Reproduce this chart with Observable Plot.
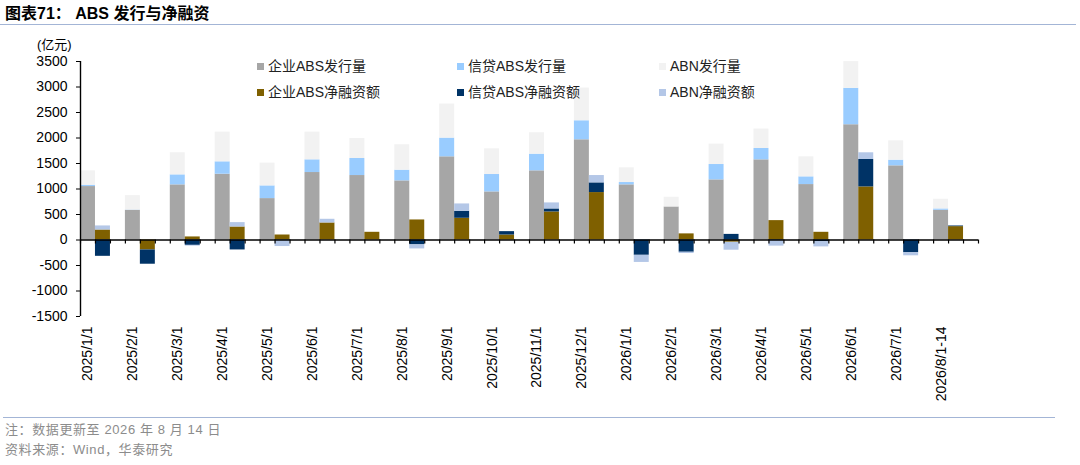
<!DOCTYPE html>
<html><head><meta charset="utf-8">
<script src="https://cdn.jsdelivr.net/npm/d3@7"></script>
<script src="https://cdn.jsdelivr.net/npm/@observablehq/plot@0.6"></script>
<style>
body{margin:0;background:#fff;font-family:"Liberation Sans","Noto Sans CJK SC",sans-serif;}
#wrap{position:relative;width:1080px;height:465px;overflow:hidden;background:#fff;}
#chart{position:absolute;left:0;top:0;}
.abs{position:absolute;white-space:nowrap;}
.title{left:5px;top:4px;font-size:16px;font-weight:bold;line-height:20px;color:#000;}
.rule{position:absolute;height:0;border-top:1.5px solid #a3b5d6;}
.unit{left:37px;top:37px;font-size:13px;line-height:15px;color:#000;}
.lg{position:absolute;display:flex;align-items:center;font-size:14px;line-height:20px;color:#222;white-space:nowrap;}
.lg i{display:inline-block;width:7px;height:7px;margin-right:4px;}
.foot{left:5px;font-size:13px;line-height:18px;color:#8c8c8c;letter-spacing:0.6px;}
</style></head>
<body><div id="wrap">
<div id="chart"></div>
<div class="abs title">图表71： ABS 发行与净融资</div>
<div class="rule" style="left:0;top:24px;width:1076px;"></div>
<div class="abs unit">(亿元)</div>
<div id="legend"></div>
<div class="rule" style="left:3px;top:417px;width:1052px;"></div>
<div class="abs foot" style="top:421px;">注：数据更新至 2026 年 8 月 14 日</div>
<div class="abs foot" style="top:441px;">资料来源：Wind，华泰研究</div>
</div>
<script>
const periods = ["2025/1/1","2025/2/1","2025/3/1","2025/4/1","2025/5/1","2025/6/1","2025/7/1","2025/8/1","2025/9/1","2025/10/1","2025/11/1","2025/12/1","2026/1/1","2026/2/1","2026/3/1","2026/4/1","2026/5/1","2026/6/1","2026/7/1","2026/8/1-14"];
const corpIssue   = [1048, 583, 1081, 1290, 812, 1323, 1264, 1159, 1631, 943, 1356, 1965, 1081, 648, 1179, 1572, 1087, 2260, 1454, 583];
const creditIssue = [26, 5, 196, 243, 249, 249, 334, 210, 367, 341, 327, 373, 46, 0, 301, 223, 151, 714, 111, 26];
const abnIssue    = [282, 282, 433, 583, 446, 544, 393, 498, 668, 504, 420, 642, 288, 190, 400, 380, 393, 524, 380, 190];
const corpNet     = [196, -195, 60, 255, 98, 334, 151, 393, 426, 98, 550, 930, 0, 120, -45, 380, 151, 1041, 0, 262];
const creditNet   = [-320, -280, -105, -195, -8, 0, 0, -95, 137, 66, 59, 190, -300, -240, 110, -10, -35, 538, -250, 13];
const abnNet      = [80, 0, -15, 86, -120, 72, 0, -80, 144, 0, 118, 144, -140, -25, -155, -110, -100, 131, -60, 0];
const seriesNames  = ["企业ABS发行量","信贷ABS发行量","ABN发行量","企业ABS净融资额","信贷ABS净融资额","ABN净融资额"];
const seriesColors = ["#a6a6a6","#99ccff","#f2f2f2","#7f6000","#003366","#b4c7e7"];
const yTicks = [-1500,-1000,-500,0,500,1000,1500,2000,2500,3000,3500];

const groups = [[corpIssue, creditIssue, abnIssue], [corpNet, creditNet, abnNet]];
const rows = [];
periods.forEach((p, i) => {
  groups.forEach((g, k) => g.forEach((arr, j) => {
    rows.push({slot: i * 3 + k, series: seriesNames[k * 3 + j], value: arr[i]});
  }));
});
const nSlots = periods.length * 3;

const chart = Plot.plot({
  width: 1080, height: 410,
  marginLeft: 80, marginRight: 102, marginTop: 61, marginBottom: 94,
  style: {fontFamily: '"Liberation Sans","Noto Sans CJK SC",sans-serif', fontSize: "14px", color: "#000", background: "transparent"},
  x: {type: "linear", domain: [0, nSlots]},
  y: {domain: [yTicks[0], yTicks[yTicks.length - 1]]},
  color: {domain: seriesNames, range: seriesColors},
  marks: [
    Plot.rectY(rows, Plot.stackY({x: "slot", x1: "slot", x2: d => d.slot + 1, y: "value", fill: "series", z: "series", order: seriesNames})),
    Plot.ruleY([0], {stroke: "#000", strokeWidth: 1.3}),
    Plot.ruleX(d3.range(nSlots + 1), {x: d => d, y1: 0, y2: 0, insetBottom: -4, stroke: "#000", strokeWidth: 1.2}),
    Plot.ruleX([0], {stroke: "#000", strokeWidth: 1.4}),
    Plot.axisY({ticks: yTicks, tickSize: 4, tickPadding: 9, tickFormat: d => String(d), label: null, stroke: "#000"}),
    Plot.axisX({ticks: periods.map((p, i) => i * 3 + 0.5), tickFormat: v => periods[Math.round((v - 0.5) / 3)], tickSize: 0, tickPadding: 10, tickRotate: -90, label: null, anchor: "bottom"})
  ]
});
document.getElementById("chart").appendChild(chart);

const legendPos = [[257, 56], [457, 56], [659, 56], [257, 82], [457, 82], [659, 82]];
const legend = document.getElementById("legend");
seriesNames.forEach((name, i) => {
  const d = document.createElement("div");
  d.className = "lg";
  d.style.left = legendPos[i][0] + "px";
  d.style.top = legendPos[i][1] + "px";
  const sw = document.createElement("i");
  sw.style.background = seriesColors[i];
  d.appendChild(sw);
  d.appendChild(document.createTextNode(name));
  legend.appendChild(d);
});
</script>
</body></html>
